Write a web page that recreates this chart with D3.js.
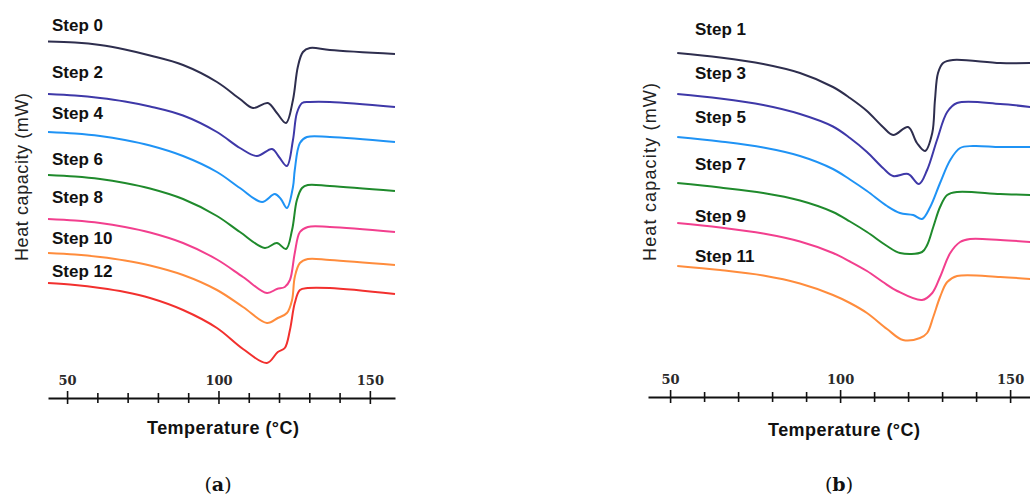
<!DOCTYPE html>
<html>
<head>
<meta charset="utf-8">
<script src="https://cdn.jsdelivr.net/npm/d3@7"></script>
<style>
  body { margin: 0; background: #fff; }
  svg { display: block; }
  .step-label { font-family: "Liberation Sans", Arial, sans-serif; font-weight: bold; font-size: 17px; fill: #111; }
  .axis-title { font-family: "Liberation Sans", Arial, sans-serif; font-weight: bold; font-size: 18px; fill: #111; }
  .y-title { font-family: "Liberation Sans", Arial, sans-serif; font-size: 18px; fill: #222; }
  .panel-tag { font-family: "DejaVu Serif", serif; font-size: 19px; fill: #111; }
</style>
</head>
<body>
<svg id="chart" width="1030" height="497"></svg>
<script>
// temperature (°C), heat capacity (arb. units)
// panel (a): even steps
var step0 = [[43.7,35.65],[52.6,35.55],[60.9,35.3],[69.1,34.85],[77.4,34.25],[88.3,33.3],[99.5,31.6],[107.1,29.9],[111.4,29.0],[116.3,29.5],[119.3,28.5],[122.3,27.5],[124.6,29.8],[126.2,33.1],[127.9,34.6],[130.2,35.0],[136.8,34.8],[158.3,34.4]];
var step2 = [[43.7,30.4],[52.6,30.25],[60.9,30.0],[69.1,29.65],[77.4,29.15],[88.3,28.25],[99.5,26.6],[107.1,25.0],[112.7,24.2],[117.7,24.9],[120.0,24.1],[122.6,23.2],[124.6,25.8],[125.9,28.5],[127.6,29.5],[130.2,29.6],[136.8,29.6],[158.3,29.1]];
var step4 = [[43.7,26.6],[52.6,26.45],[60.9,26.2],[69.1,25.8],[77.4,25.25],[88.3,24.2],[99.5,22.6],[107.1,21.0],[114.4,19.6],[118.6,20.4],[120.6,19.9],[122.6,19.0],[124.6,21.1],[125.2,22.8],[126.9,25.5],[129.2,26.1],[136.8,26.1],[158.3,25.6]];
var step6 = [[43.7,22.3],[52.6,22.15],[60.9,21.9],[69.1,21.5],[77.4,20.95],[88.3,19.9],[99.5,18.2],[107.1,16.6],[115.3,15.0],[119.3,15.5],[122.3,14.9],[124.3,16.8],[125.9,19.8],[127.6,21.0],[129.5,21.3],[136.8,21.2],[158.3,20.7]];
var step8 = [[43.7,17.9],[52.6,17.75],[60.9,17.5],[69.1,17.1],[77.4,16.55],[88.3,15.5],[99.5,13.85],[108.1,12.1],[116.0,10.5],[119.3,10.9],[121.9,11.1],[123.6,11.8],[125.2,14.5],[126.9,16.6],[129.5,17.1],[136.8,17.1],[158.3,16.6]];
var step10 = [[43.7,14.5],[52.6,14.35],[60.9,14.1],[69.1,13.75],[77.4,13.25],[88.3,12.3],[99.5,10.8],[108.1,9.1],[116.0,7.5],[119.6,8.0],[122.6,8.5],[124.3,9.8],[125.2,12.1],[126.9,13.5],[129.5,13.9],[136.8,13.8],[158.3,13.3]];
var step12 = [[43.7,11.5],[52.6,11.3],[60.9,11.0],[69.1,10.6],[77.4,10.0],[88.3,8.8],[99.5,7.0],[108.1,4.9],[116.0,3.5],[119.6,4.6],[121.9,5.0],[123.6,6.8],[125.2,9.5],[126.9,10.8],[129.5,11.0],[136.8,11.0],[158.3,10.4]];

// panel (b): odd steps
var step1 = [[52.1,34.5],[64.7,34.05],[77.4,33.4],[88.2,32.5],[97.9,31.1],[102.9,30.0],[107.9,28.7],[112.6,27.1],[115.6,26.3],[120.0,27.1],[122.6,25.5],[125.0,24.7],[127.1,26.5],[127.9,29.8],[128.8,32.5],[130.3,33.5],[133.2,33.8],[147.1,33.5],[155.9,33.5]];
var step3 = [[52.1,30.4],[64.7,29.95],[77.4,29.3],[88.2,28.4],[97.9,27.15],[102.9,26.0],[107.9,24.6],[112.6,23.0],[115.6,22.2],[120.0,22.4],[123.2,21.4],[125.6,22.8],[128.5,25.8],[131.5,28.6],[134.4,29.5],[147.1,29.4],[155.9,29.1]];
var step5 = [[52.1,26.1],[64.7,25.65],[77.4,25.05],[88.2,24.2],[97.9,22.9],[102.9,21.85],[107.9,20.7],[113.8,19.2],[117.6,18.5],[121.5,18.3],[124.1,17.9],[126.5,19.1],[129.4,21.5],[132.4,23.8],[135.3,25.0],[139.1,25.2],[147.1,25.1],[155.9,25.1]];
var step7 = [[52.1,21.5],[64.7,21.05],[77.4,20.5],[88.2,19.75],[97.9,18.6],[102.9,17.65],[107.9,16.6],[113.8,15.2],[117.6,14.5],[124.1,14.6],[125.6,15.3],[127.4,17.1],[129.4,19.1],[131.5,20.3],[134.4,20.6],[147.1,20.4],[155.9,20.3]];
var step9 = [[52.1,17.5],[64.7,17.05],[77.4,16.45],[88.2,15.65],[97.9,14.5],[102.9,13.65],[107.9,12.7],[112.6,11.6],[116.8,10.7],[124.1,9.8],[127.1,10.5],[129.4,12.1],[132.4,14.5],[135.3,15.6],[138.2,15.9],[147.1,15.8],[155.9,15.6]];
var step11 = [[52.1,13.2],[64.7,12.8],[77.4,12.25],[88.2,11.45],[97.9,10.3],[102.9,9.5],[107.9,8.5],[113.8,6.9],[118.5,5.8],[123.5,6.0],[125.6,6.5],[127.4,8.1],[129.4,10.1],[131.5,11.6],[134.4,12.2],[147.1,12.1],[155.9,11.9]];

var namesA = ['Step 0', 'Step 2', 'Step 4', 'Step 6', 'Step 8', 'Step 10', 'Step 12'];
var namesB = ['Step 1', 'Step 3', 'Step 5', 'Step 7', 'Step 9', 'Step 11'];
var tickValues = [50, 60, 70, 80, 90, 100, 110, 120, 130, 140, 150];
var tickLabels = [50, 100, 150];

// layout / style
var colorsA = ['#2e2e4e', '#3e38a8', '#1f93f5', '#1f8a2c', '#f23f8e', '#ff8c3c', '#f2302e'];
var colorsB = colorsA.slice(0, 6);
var labelLevelsA = [36.7, 32.0, 27.9, 23.3, 19.5, 15.4, 12.1];
var labelLevelsB = [36.3, 31.9, 27.5, 22.8, 17.6, 13.6];

var svg = d3.select('#chart');

var y = d3.scaleLinear()
            .domain([0, 36])
            .range([398, 38]);

function drawPanel(cfg) {
    var x = d3.scaleLinear()
                .domain(cfg.domain)
                .range(cfg.range);

    var g = svg.append('g');

    var line = d3.line()
                .x(d => x(d[0]))
                .y(d => y(d[1]))
                .curve(d3.curveCatmullRom.alpha(0.5));

    g.selectAll('.curve')
        .data(cfg.series)
        .enter()
        .append('path')
            .classed('curve', true)
            .attr('d', line)
            .attr('fill', 'none')
            .attr('stroke', (d, i) => cfg.colors[i])
            .attr('stroke-width', 2);

    g.selectAll('.step-label')
        .data(cfg.names)
        .enter()
        .append('text')
            .classed('step-label', true)
            .attr('x', cfg.labelX)
            .attr('y', (d, i) => y(cfg.levels[i]))
            .text(d => d);

    var xAxis = d3.axisBottom(x)
                    .tickValues(tickValues)
                    .tickSizeInner(5)
                    .tickSizeOuter(0)
                    .tickFormat(d => tickLabels.indexOf(d) >= 0 ? d : '');

    var ax = g.append('g')
                .attr('transform', `translate(0, ${cfg.axisY})`)
                .call(xAxis);

    ax.select('.domain')
        .attr('stroke', '#111')
        .attr('stroke-width', 2);
    ax.selectAll('.tick line')
        .attr('stroke', '#111')
        .attr('stroke-width', 1.6)
        .attr('y1', d => tickLabels.indexOf(d) >= 0 ? -7 : -5)
        .attr('y2', d => tickLabels.indexOf(d) >= 0 ? 6 : 5);
    ax.selectAll('.tick text')
        .attr('y', -13)
        .attr('dy', 0)
        .style('font-family', '"DejaVu Serif", serif')
        .style('font-weight', 'bold')
        .style('font-size', '13px')
        .attr('fill', '#2a2a2a');

    g.append('text')
        .classed('axis-title', true)
        .attr('x', cfg.titleX)
        .attr('y', cfg.titleY)
        .attr('text-anchor', 'middle')
        .attr('textLength', 152)
        .text('Temperature (°C)');

    g.append('text')
        .classed('y-title', true)
        .attr('transform', `translate(${cfg.yTitleX}, ${cfg.yTitleY}) rotate(-90)`)
        .attr('text-anchor', 'middle')
        .attr('textLength', cfg.yTitleLen)
        .text('Heat capacity (mW)');

    var tag = g.append('text')
                .classed('panel-tag', true)
                .attr('x', cfg.titleX - 5)
                .attr('y', 491)
                .attr('text-anchor', 'middle');
    tag.append('tspan').text('(');
    tag.append('tspan').style('font-weight', 'bold').text(cfg.tag);
    tag.append('tspan').text(')');
}

drawPanel({
    series: [step0, step2, step4, step6, step8, step10, step12],
    names: namesA,
    colors: colorsA,
    levels: labelLevelsA,
    domain: [43.7, 158.3],
    range: [48, 395],
    axisY: 398,
    labelX: 52,
    titleX: 223,
    titleY: 434,
    yTitleX: 28,
    yTitleY: 177,
    yTitleLen: 168,
    tag: 'a'
});

drawPanel({
    series: [step1, step3, step5, step7, step9, step11],
    names: namesB,
    colors: colorsB,
    levels: labelLevelsB,
    domain: [43.5, 158],
    range: [648, 1037.3],
    axisY: 397,
    labelX: 695,
    titleX: 844,
    titleY: 436,
    yTitleX: 656,
    yTitleY: 172,
    yTitleLen: 178,
    tag: 'b'
});
</script>
</body>
</html>
